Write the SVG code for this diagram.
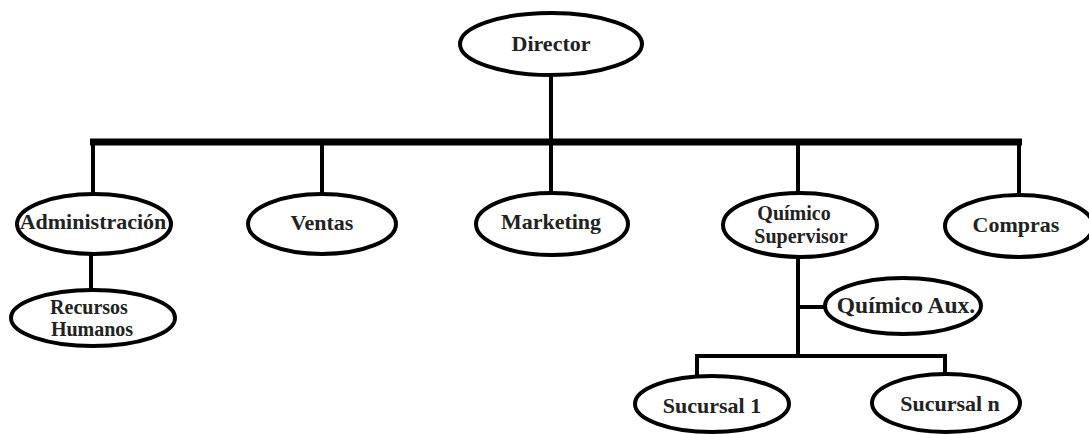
<svg xmlns="http://www.w3.org/2000/svg" width="1089" height="434" viewBox="0 0 1089 434">
<style>
.n ellipse{fill:#fff;stroke:#000;stroke-width:4}
.n text{font-family:"Liberation Serif","Times New Roman",serif;font-weight:bold;font-size:22px;fill:#222;text-anchor:middle}
.n text.s{font-size:20px}
.c line,.c polyline{stroke:#000;stroke-width:4;fill:none}
.c .bar{stroke-width:7}
</style>
<rect width="1089" height="434" fill="#fff"/>
<g class="c" id="connectors">
<line x1="551" y1="72" x2="551" y2="142"/>
<line class="bar" x1="90" y1="142" x2="1022" y2="142"/>
<line x1="93" y1="142" x2="93" y2="194"/>
<line x1="322" y1="142" x2="322" y2="194"/>
<line x1="551" y1="142" x2="551" y2="194"/>
<line x1="798" y1="142" x2="798" y2="194"/>
<line x1="1019" y1="142" x2="1019" y2="196"/>
<line x1="91" y1="254" x2="91" y2="291"/>
<line x1="798" y1="256" x2="798" y2="356"/>
<line x1="798" y1="307" x2="826" y2="307"/>
<polyline points="697,378 697,356 945,356 945,375"/>
</g>
<g class="n" id="director"><ellipse cx="551" cy="44" rx="91" ry="31"/><text x="551" y="51">Director</text></g>
<g class="n" id="administracion"><ellipse cx="94" cy="224" rx="77" ry="30"/><text x="93" y="229">Administración</text></g>
<g class="n" id="ventas"><ellipse cx="322" cy="224" rx="74" ry="30"/><text x="322" y="230">Ventas</text></g>
<g class="n" id="marketing"><ellipse cx="552" cy="224" rx="76" ry="31"/><text x="551" y="229">Marketing</text></g>
<g class="n" id="quimico-supervisor"><ellipse cx="800" cy="225" rx="77" ry="32"/><text class="s" x="794" y="220">Químico</text><text class="s" x="801" y="243">Supervisor</text></g>
<g class="n" id="compras"><ellipse cx="1019" cy="226" rx="74" ry="31"/><text x="1016" y="232">Compras</text></g>
<g class="n" id="recursos-humanos"><ellipse cx="93" cy="318" rx="82" ry="28"/><text class="s" x="89" y="314">Recursos</text><text class="s" x="92" y="336">Humanos</text></g>
<g class="n" id="quimico-aux"><ellipse cx="903" cy="306" rx="78" ry="28"/><text x="906" y="313" style="font-size:23.5px">Químico Aux.</text></g>
<g class="n" id="sucursal-1"><ellipse cx="712" cy="404" rx="77" ry="28"/><text x="712" y="413">Sucursal 1</text></g>
<g class="n" id="sucursal-n"><ellipse cx="946" cy="403" rx="74" ry="29"/><text x="950" y="411">Sucursal n</text></g>
</svg>
